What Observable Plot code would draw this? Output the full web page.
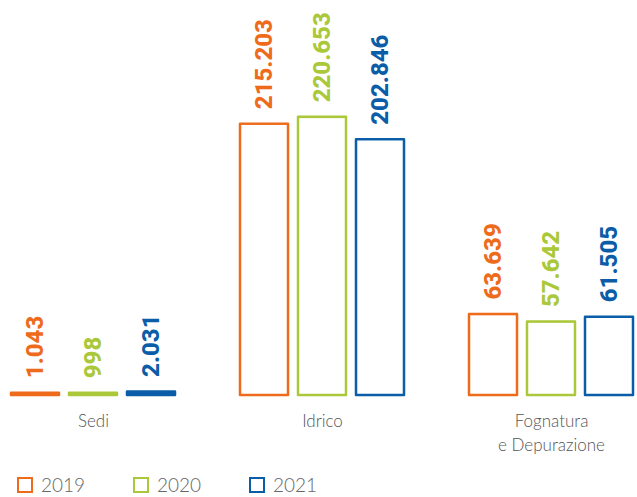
<!DOCTYPE html>
<html>
<head>
<meta charset="utf-8">
<script src="https://cdn.jsdelivr.net/npm/d3@7"></script>
<script src="https://cdn.jsdelivr.net/npm/@observablehq/plot@0.6"></script>
<style>
  html, body { margin: 0; padding: 0; background: #fff; }
  #wrap { position: relative; width: 637px; height: 497px; overflow: hidden; }
  #legend { position: absolute; left: 17px; top: 474px; display: flex; font-family: Lato, sans-serif; font-weight: 300; font-size: 19px; line-height: 22px; color: #666; }
  .item { display: flex; align-items: center; width: 116px; }
  .sw { width: 12px; height: 12px; border: 2.5px solid; margin-right: 8px; box-sizing: content-box; }
</style>
</head>
<body>
<div id="wrap"><div id="chart"></div><div id="legend"></div></div>
<script>
const categories = ["Sedi", "Idrico", "Fognatura\ne Depurazione"];
const years = ["2019", "2020", "2021"];
const colors = ["#EE6B1B", "#ABC83A", "#0B5DA8"];
const values2019 = [1043, 215203, 63639];
const values2020 = [998, 220653, 57642];
const values2021 = [2031, 202846, 61505];

const series = [values2019, values2020, values2021];
const data = [];
categories.forEach((c, i) => years.forEach((y, j) => data.push({category: c, year: y, value: series[j][i]})));

const fmt = d3.formatLocale({decimal: ",", thousands: ".", grouping: [3]}).format(",");

const chart = Plot.plot({
  width: 637,
  height: 465,
  marginLeft: 10,
  marginRight: 2,
  marginTop: 81,
  marginBottom: 70,
  style: {background: "transparent"},
  fx: {domain: categories, paddingInner: 0.274, paddingOuter: 0, label: null},
  x: {domain: years, paddingInner: 0.17, paddingOuter: 0, axis: null},
  y: {domain: [0, 250000], axis: null},
  color: {domain: years, range: colors},
  marks: [
    Plot.barY(data, {fx: "category", x: "year", y: "value", fill: "year", stroke: "year", strokeWidth: 2.5, strokeLinejoin: "round", insetTop: -1}),
    Plot.barY(data.filter(d => d.value > 10000), {fx: "category", x: "year", y: "value", fill: "white", insetTop: 0.25, insetBottom: 1.25, insetLeft: 1.25, insetRight: 1.25}),
    Plot.text(data, {fx: "category", x: "year", y: "value", text: d => fmt(d.value), fill: "year", rotate: -90, textAnchor: "start", dy: -16, fontSize: 24, fontWeight: 800, fontFamily: "Roboto, sans-serif", letterSpacing: -0.3}),
    Plot.axisFx({anchor: "bottom", tickSize: 0, tickPadding: 15, lineAnchor: "top", lineHeight: 1.4, fontSize: 17, fontWeight: 300, fontFamily: "Lato, sans-serif", fill: "#555", label: null})
  ]
});
document.getElementById("chart").appendChild(chart);

const legend = document.getElementById("legend");
years.forEach((y, i) => {
  const it = document.createElement("div");
  it.className = "item";
  const sw = document.createElement("span");
  sw.className = "sw";
  sw.style.borderColor = colors[i];
  const t = document.createElement("span");
  t.textContent = y;
  it.appendChild(sw); it.appendChild(t);
  legend.appendChild(it);
});
</script>
</body>
</html>
